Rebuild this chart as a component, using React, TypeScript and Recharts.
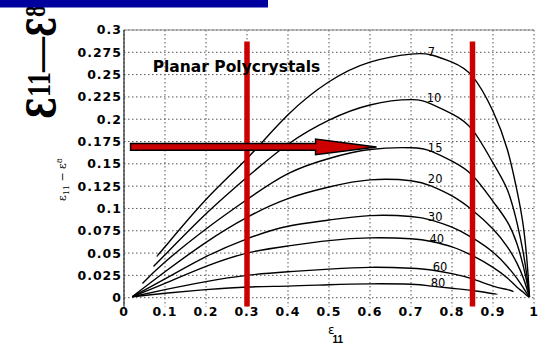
import React from 'react';
import {
  LineChart,
  Line,
  XAxis,
  YAxis,
  CartesianGrid,
  ReferenceLine,
  ReferenceDot,
} from 'recharts';

// sample positions along eps11, shared by all curves (null = curve not drawn there)
const xs = [0.02, 0.045, 0.072, 0.081, 0.1, 0.2, 0.3, 0.4, 0.5, 0.6, 0.7, 0.75, 0.8, 0.85, 0.9, 0.909, 0.935, 0.95, 0.958, 0.974, 0.984, 0.989];

const c7 = [null, null, null, 0.047, 0.057, 0.11, 0.156, 0.205, 0.242, 0.264, 0.273, 0.272, 0.264, 0.248, 0.209, null, 0.166, null, 0.121, 0.08, 0.035, 0.001];
const c10 = [null, null, 0.035, null, 0.048, 0.094, 0.135, 0.172, 0.199, 0.216, 0.222, 0.217, 0.206, 0.188, 0.151, null, 0.121, null, 0.085, 0.05, 0.02, 0.001];
const c15 = [null, 0.016, null, null, 0.04, 0.077, 0.11, 0.139, 0.156, 0.166, 0.168, 0.164, 0.153, 0.137, 0.108, null, 0.085, null, 0.061, 0.035, 0.014, 0.001];
const c20 = [0.001, null, null, null, 0.029, 0.062, 0.09, 0.111, 0.124, 0.132, 0.131, 0.125, 0.114, 0.098, 0.077, null, 0.057, null, 0.039, 0.022, 0.008, 0.001];
const c30 = [0.001, null, null, null, 0.021, 0.046, 0.066, 0.08, 0.087, 0.092, 0.091, 0.087, 0.079, 0.067, 0.051, null, 0.035, null, 0.022, 0.011, 0.004, 0.001];
const c40 = [0.001, null, null, null, 0.016, 0.035, 0.05, 0.058, 0.064, 0.067, 0.066, 0.063, 0.057, 0.047, 0.034, null, 0.022, null, 0.012, 0.006, 0.002, 0.001];
const c60 = [0.001, null, null, null, 0.009, 0.018, 0.025, 0.029, 0.032, 0.034, 0.033, 0.031, 0.027, 0.021, 0.013, null, 0.009, 0.0067, null, null, null, null];
const c80 = [0.001, null, null, null, 0.005, 0.009, 0.012, 0.013, 0.0145, 0.0155, 0.015, 0.013, 0.0105, 0.008, 0.0045, 0.004, null, null, null, null, null, null];

const curveNames = ['7', '10', '15', '20', '30', '40', '60', '80'];
const curveValues = [c7, c10, c15, c20, c30, c40, c60, c80];
const labelX = [0.75, 0.756, 0.759, 0.759, 0.759, 0.763, 0.771, 0.766];
const labelY = [0.2757, 0.2238, 0.1677, 0.133, 0.0908, 0.0658, 0.0347, 0.0164];

const xTicks = [0, 0.1, 0.2, 0.3, 0.4, 0.5, 0.6, 0.7, 0.8, 0.9, 1];
const yTicks = [0, 0.025, 0.05, 0.075, 0.1, 0.125, 0.15, 0.175, 0.2, 0.225, 0.25, 0.275, 0.3];

// red annotations
const markerXs = [0.3, 0.85];
const markerTop = 0.287;
const arrowFrom = 0.016;
const arrowTo = 0.616;
const arrowY = 0.169;

const data = xs.map((x, i) => {
  const row: Record<string, number | null> = { x };
  curveNames.forEach((n, k) => {
    row['c' + n] = curveValues[k][i];
  });
  return row;
});

const tickStyle = {
  fontSize: 12.5,
  fontWeight: 'bold',
  fontFamily: 'DejaVu Sans',
  fill: '#000',
  letterSpacing: 1,
};

const RED = '#cc0000';

function Arrow(props: any) {
  const { x1, y1, x2 } = props;
  const headLen = 61;
  const shaft = 3.3;
  const head = 7.8;
  const bx = x2 - headLen;
  const pts = [
    [x1, y1 - shaft],
    [bx, y1 - shaft],
    [bx, y1 - head],
    [x2, y1],
    [bx, y1 + head],
    [bx, y1 + shaft],
    [x1, y1 + shaft],
  ]
    .map((p) => p.join(','))
    .join(' ');
  return <polygon points={pts} fill={RED} stroke="#000" strokeWidth={1.5} strokeLinejoin="miter" />;
}

// big rotated "ε11—ε8" in the top-left corner; pieces laid out along the rotated baseline
function BigLabel() {
  const common = { fontWeight: 'bold', fill: '#000', lengthAdjust: 'spacingAndGlyphs' as const };
  return (
    <g transform="translate(55,0) rotate(-90)">
      <text x={-119} y={0} fontFamily="DejaVu Serif" fontSize={54} textLength={22} {...common}>ε</text>
      <text x={-97} y={-5} fontFamily="Liberation Serif" fontSize={34} textLength={25} {...common}>11</text>
      <text x={-72} y={-2} fontFamily="Liberation Serif" fontSize={40} textLength={35} {...common}>—</text>
      <text x={-37} y={0} fontFamily="DejaVu Serif" fontSize={54} textLength={20} {...common}>ε</text>
      <text x={-17} y={-10} fontFamily="Liberation Serif" fontSize={30} textLength={12} {...common}>8</text>
    </g>
  );
}

export default function App() {
  return (
    <div style={{ position: 'absolute', left: 0, top: 0, width: 538, height: 344, background: '#fff' }}>
      <LineChart width={538} height={344} data={data} margin={{ top: 30, right: 4, bottom: 0, left: 0 }}>
        <CartesianGrid stroke="#555" strokeDasharray="1.5 2.5" horizontalValues={yTicks} verticalValues={xTicks} />
        <XAxis
          dataKey="x"
          type="number"
          domain={[0, 1]}
          ticks={xTicks}
          interval={0}
          height={37.4}
          tickLine={false}
          tickSize={0}
          tickMargin={1}
          axisLine={false}
          tick={tickStyle}
          tickFormatter={(v) => String(v)}
        />
        <YAxis
          type="number"
          domain={[-0.01, 0.3]}
          allowDataOverflow
          ticks={yTicks}
          interval={0}
          width={124}
          tickLine={false}
          tickSize={0}
          tickMargin={2}
          axisLine={{ stroke: '#222', strokeWidth: 1.2 }}
          tick={tickStyle}
          tickFormatter={(v) => String(parseFloat(Number(v).toFixed(3)))}
        />
        <ReferenceLine y={0.3} stroke="#888" strokeWidth={1} />
        {curveNames.map((n) => (
          <Line
            key={n}
            dataKey={'c' + n}
            type="natural"
            stroke="#000"
            strokeWidth={1.4}
            dot={false}
            connectNulls
            isAnimationActive={false}
          />
        ))}
        {curveNames.map((n, k) => (
          <ReferenceDot
            key={'lbl' + n}
            x={labelX[k]}
            y={labelY[k]}
            r={0}
            stroke="none"
            fill="none"
            label={{ value: n, position: 'center', fontSize: 11.5, fontFamily: 'DejaVu Sans', fill: '#000' }}
          />
        ))}
        {markerXs.map((mx) => (
          <ReferenceLine
            key={'m' + mx}
            segment={[
              { x: mx, y: -0.01 },
              { x: mx, y: markerTop },
            ]}
            stroke={RED}
            strokeWidth={5.5}
          />
        ))}
        <ReferenceLine
          segment={[
            { x: arrowFrom, y: arrowY },
            { x: arrowTo, y: arrowY },
          ]}
          shape={(p: any) => <Arrow {...p} />}
        />
      </LineChart>
      <svg
        width={538}
        height={344}
        style={{ position: 'absolute', left: 0, top: 0, pointerEvents: 'none' }}
      >
        <text x={152.7} y={71.7} fontSize={15.5} fontWeight="bold" fontFamily="DejaVu Sans" fill="#000">
          Planar Polycrystals
        </text>
        <BigLabel />
        <text transform="translate(65.5,201) rotate(-90)" fontFamily="DejaVu Serif" fontSize={11} fill="#000">
          ε
          <tspan fontSize={8} dy={3}>11</tspan>
          <tspan dy={-3}> − ε</tspan>
          <tspan fontSize={8} dy={-4}>8</tspan>
        </text>
        <text x={328} y={333.5} fontFamily="DejaVu Sans" fontSize={12} fill="#000">
          ε
          <tspan fontSize={10} fontWeight="bold" fontFamily="Liberation Sans" dx={-2} dy={9}>11</tspan>
        </text>
        <rect x={0} y={0} width={268} height={7.5} fill="#00009f" />
      </svg>
    </div>
  );
}
